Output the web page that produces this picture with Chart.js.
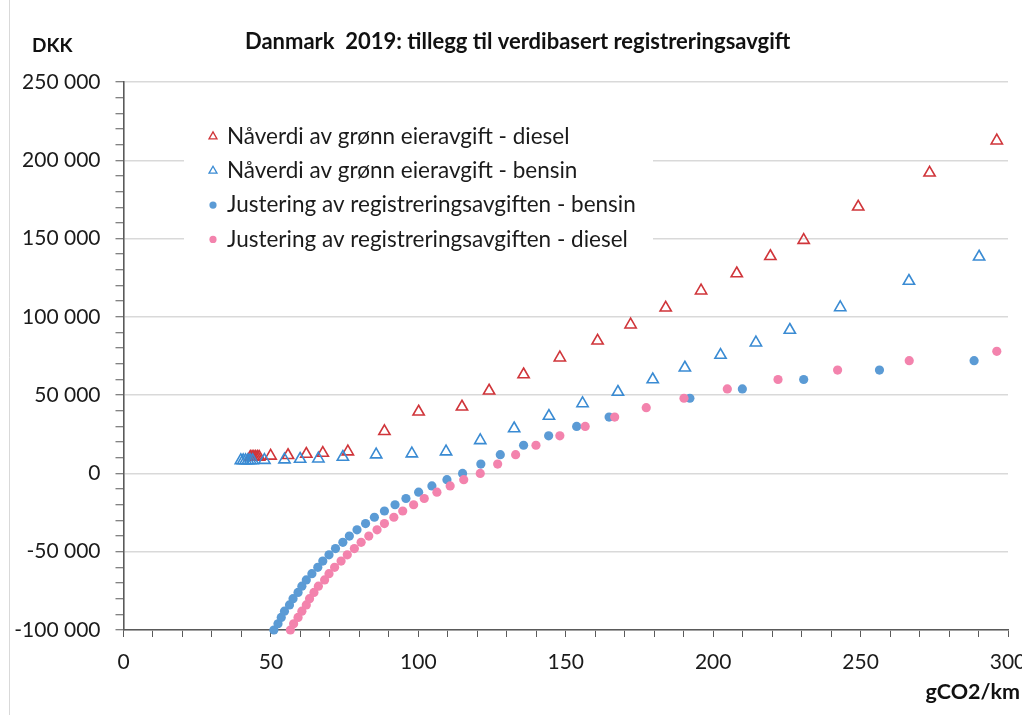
<!DOCTYPE html>
<html>
<head>
<meta charset="utf-8">
<script src="https://cdn.jsdelivr.net/npm/chart.js@4.4.1/dist/chart.umd.min.js"></script>
<style>
  html, body { margin: 0; padding: 0; background: #ffffff; }
  canvas { display: block; }
</style>
</head>
<body>
<canvas id="chart" width="1022" height="715"></canvas>
<script>
// ---- Text ----
const chartTitle = 'Danmark  2019: tillegg til verdibasert registreringsavgift';
const yUnitLabel = 'DKK';
const xUnitLabel = 'gCO2/km';
const seriesNames = [
  'Nåverdi av grønn eieravgift - diesel',
  'Nåverdi av grønn eieravgift - bensin',
  'Justering av registreringsavgiften - bensin',
  'Justering av registreringsavgiften - diesel'
];

// ---- Axis ranges / tick steps ----
const xRange = [0, 300];
const xTickStep = 10;
const xLabelStep = 50;
const yRange = [-100000, 250000];
const yTickStep = 10000;
const yLabelStep = 50000;

// ---- Series: present value of green owner tax, diesel (g CO2/km, DKK) ----
const dieselPvX = [43.0, 43.6, 44.2, 44.8, 45.4, 46.0, 49.9, 55.8, 62.0, 67.6, 76.1, 88.5,
  100.1, 114.8, 124.0, 135.7, 148.0, 160.8, 172.0, 183.9, 195.9, 208.0, 219.4, 230.7,
  249.2, 273.4, 296.2];
const dieselPvY = [10500, 10500, 10500, 10500, 10500, 10500, 11200, 11600, 12400, 13000, 13900, 26900,
  39400, 42600, 52800, 63200, 73900, 84700, 95000, 105800, 116700, 127700, 138700, 149000,
  170300, 192000, 212500];

// ---- Series: present value of green owner tax, petrol ----
const petrolPvX = [39.8, 40.6, 41.4, 42.2, 43.0, 43.8, 47.8, 54.6, 59.9, 66.1, 74.4, 85.7,
  97.8, 109.4, 121.0, 132.5, 144.3, 155.7, 167.7, 179.5, 190.4, 202.5, 214.5, 226.0,
  243.1, 266.4, 290.2];
const petrolPvY = [8300, 8300, 8300, 8300, 8300, 8300, 8500, 8800, 9200, 9400, 10500, 12000,
  12650, 13900, 21100, 28700, 36650, 44700, 52000, 60000, 67500, 75600, 83500, 91600,
  106000, 122900, 138400];

// ---- Series: registration tax adjustment, petrol ----
const petrolAdjX = [51.0, 52.4, 53.5, 54.6, 56.3, 57.5, 59.2, 60.5, 62.0, 63.9, 65.9, 67.6,
  69.7, 71.9, 74.4, 76.6, 79.2, 82.1, 85.1, 88.5, 92.1, 95.8, 100.1, 104.6, 109.7, 115.0,
  121.2, 127.8, 135.7, 144.2, 153.7, 164.7, 192.1, 209.9, 230.7, 256.4, 288.5];
const petrolAdjY = [-100000, -96000, -92000, -88000, -84000, -80000, -76000, -72000, -68000,
  -64000, -60000, -56000, -52000, -48000, -44000, -40000, -36000, -32000, -28000, -24000,
  -20000, -16000, -12000, -8000, -4000, 0,
  6000, 12000, 18000, 24000, 30000, 36000, 48000, 54000, 60000, 66000, 72000];

// ---- Series: registration tax adjustment, diesel ----
const dieselAdjX = [56.6, 57.7, 59.2, 60.5, 62.0, 63.1, 64.6, 66.1, 68.2, 69.7, 71.6, 73.8,
  75.9, 78.3, 80.6, 83.2, 86.0, 88.5, 91.7, 94.7, 98.4, 102.0, 106.3, 110.8, 115.4, 121.0,
  126.9, 133.0, 139.9, 148.0, 156.6, 166.6, 177.3, 190.1, 204.8, 222.0, 242.2, 266.5, 296.2];
const dieselAdjY = [-100000, -96000, -92000, -88000, -84000, -80000, -76000, -72000, -68000,
  -64000, -60000, -56000, -52000, -48000, -44000, -40000, -36000, -32000, -28000, -24000,
  -20000, -16000, -12000, -8000, -4000, 0,
  6000, 12000, 18000, 24000, 30000, 36000, 42000, 48000, 54000, 60000, 66000, 72000, 78000];

// ---- Styling ----
const FONT = 'Lato, "Open Sans", "Noto Sans", sans-serif';
const TEXT_COLOR = '#1b1b1b';
const AXIS_COLOR = '#5a5a5a';
const GRID_COLOR = '#d9d9d9';
const seriesColors = ['#d0353a', '#3a8bd3', '#5b9bd5', '#f383ad'];

const toPoints = (xs, ys) => xs.map((x, i) => ({ x, y: ys[i] }));
const groupThousands = v => {
  const s = String(Math.abs(v)).replace(/\B(?=(\d{3})+(?!\d))/g, ' ');
  return (v < 0 ? '-' : '') + s;
};

const triangleSet = (label, points, color, order) => ({
  label, data: points, order,
  pointStyle: 'triangle', pointRadius: 6.5, pointBorderWidth: 1.6,
  borderColor: color, pointBorderColor: color,
  backgroundColor: 'rgba(0,0,0,0)', pointBackgroundColor: 'rgba(0,0,0,0)'
});
const dotSet = (label, points, color, order) => ({
  label, data: points, order,
  pointStyle: 'circle', pointRadius: 4.6, pointBorderWidth: 0,
  borderColor: color, pointBorderColor: color,
  backgroundColor: color, pointBackgroundColor: color
});

// Legend box drawn inside the plot area
const legendLayout = {
  box: { left: 184, top: 118, right: 653, bottom: 256 },
  markerX: 213, textX: 227, firstRow: 136.5, rowGap: 34.3, fontSize: 22.5
};

function drawMarker(ctx, ds, x, y) {
  ctx.save();
  if (ds.pointStyle === 'triangle') {
    const r = 4.6;
    ctx.strokeStyle = ds.pointBorderColor;
    ctx.lineWidth = 1.3;
    ctx.beginPath();
    ctx.moveTo(x, y - r);
    ctx.lineTo(x + r * Math.sin(Math.PI * 2 / 3), y + r / 2);
    ctx.lineTo(x - r * Math.sin(Math.PI * 2 / 3), y + r / 2);
    ctx.closePath();
    ctx.stroke();
  } else {
    ctx.fillStyle = ds.pointBackgroundColor;
    ctx.beginPath();
    ctx.arc(x, y, 3.6, 0, Math.PI * 2);
    ctx.fill();
  }
  ctx.restore();
}

const insetLegend = {
  id: 'insetLegend',
  beforeDatasetsDraw(chart) {
    const { ctx } = chart;
    const L = legendLayout;
    ctx.save();
    ctx.fillStyle = '#ffffff';
    ctx.fillRect(L.box.left, L.box.top, L.box.right - L.box.left, L.box.bottom - L.box.top);
    ctx.font = `${L.fontSize}px ${FONT}`;
    ctx.textBaseline = 'middle';
    ctx.textAlign = 'left';
    ctx.fillStyle = TEXT_COLOR;
    chart.data.datasets.forEach((ds, i) => {
      const y = L.firstRow + i * L.rowGap;
      drawMarker(ctx, ds, L.markerX, y);
      ctx.fillText(ds.label, L.textX, y);
    });
    ctx.restore();
  }
};

const frameTexts = {
  id: 'frameTexts',
  afterDraw(chart) {
    const { ctx } = chart;
    ctx.save();
    // outer frame edge
    ctx.strokeStyle = '#d9d9d9';
    ctx.lineWidth = 1;
    ctx.beginPath();
    ctx.moveTo(9.5, 0);
    ctx.lineTo(9.5, 715);
    ctx.stroke();

    ctx.fillStyle = '#111111';
    ctx.textBaseline = 'middle';
    ctx.font = `bold 22px ${FONT}`;
    ctx.textAlign = 'left';
    ctx.fillText(chartTitle, 245, 42);

    ctx.font = `bold 19px ${FONT}`;
    ctx.fillText(yUnitLabel, 32, 46);

    ctx.textAlign = 'right';
    ctx.font = `bold 21.5px ${FONT}`;
    ctx.fillText(xUnitLabel, 1020, 692);
    ctx.restore();
  }
};

function build() {
  new Chart(document.getElementById('chart'), {
    type: 'scatter',
    data: {
      datasets: [
        triangleSet(seriesNames[0], toPoints(dieselPvX, dieselPvY), seriesColors[0], 3),
        triangleSet(seriesNames[1], toPoints(petrolPvX, petrolPvY), seriesColors[1], 2),
        dotSet(seriesNames[2], toPoints(petrolAdjX, petrolAdjY), seriesColors[2], 1),
        dotSet(seriesNames[3], toPoints(dieselAdjX, dieselAdjY), seriesColors[3], 0)
      ]
    },
    options: {
      responsive: false,
      animation: false,
      devicePixelRatio: 1,
      events: [],
      clip: false,
      layout: { padding: { top: 82, right: 0, left: 0, bottom: 0 } },
      plugins: {
        legend: { display: false },
        title: { display: false },
        tooltip: { enabled: false }
      },
      scales: {
        x: {
          type: 'linear',
          min: xRange[0], max: xRange[1],
          afterFit: s => { s.height = 85; s.paddingRight = 14; s.paddingLeft = 0; },
          border: { display: true, color: AXIS_COLOR, width: 1.6 },
          grid: {
            drawOnChartArea: false, drawTicks: true,
            tickLength: 7, tickColor: AXIS_COLOR, tickWidth: 1
          },
          ticks: {
            stepSize: xTickStep, autoSkip: false, maxRotation: 0, padding: 13,
            color: TEXT_COLOR, font: { family: FONT, size: 21 },
            callback: v => (v % xLabelStep === 0 ? String(v) : '')
          }
        },
        y: {
          type: 'linear',
          min: yRange[0], max: yRange[1],
          afterFit: s => { s.width = 123.5; },
          border: { display: true, color: AXIS_COLOR, width: 1.6 },
          grid: {
            drawOnChartArea: true, drawTicks: true,
            color: c => (c.tick && c.tick.value % yLabelStep === 0 ? GRID_COLOR : 'rgba(0,0,0,0)'),
            lineWidth: 1.5,
            tickLength: 8, tickColor: AXIS_COLOR, tickWidth: 1
          },
          ticks: {
            stepSize: yTickStep, autoSkip: false, maxTicksLimit: 100, padding: 15,
            color: TEXT_COLOR, font: { family: FONT, size: 21 },
            callback: v => (v % yLabelStep === 0 ? groupThousands(v) : '')
          }
        }
      }
    },
    plugins: [insetLegend, frameTexts]
  });
}

const fontLoads = [
  document.fonts.load('20px Lato'),
  document.fonts.load('bold 20px Lato')
];
Promise.all(fontLoads).catch(() => {}).then(build);
</script>
</body>
</html>
